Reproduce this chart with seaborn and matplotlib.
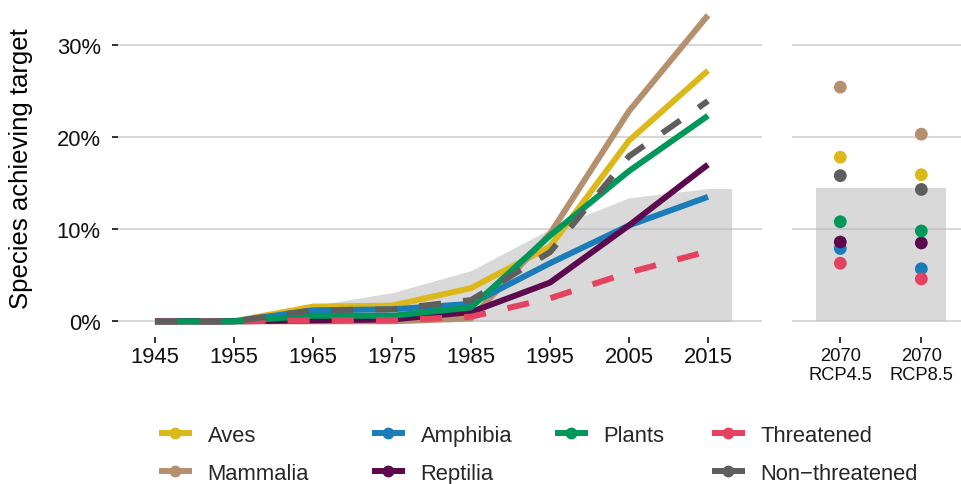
import numpy as np
import pandas as pd
import matplotlib
matplotlib.use("Agg")
import matplotlib.pyplot as plt
import seaborn as sns
from matplotlib.lines import Line2D

# Species groups (legend / drawing order)
groups = ["Aves", "Mammalia", "Amphibia", "Reptilia", "Plants", "Threatened", "Non\u2212threatened"]
colors = ["#DDB81A", "#B5906E", "#1A7DBA", "#5C0A4D", "#00975A", "#E34360", "#5E5E5E"]
dashed = ["Threatened", "Non\u2212threatened"]

# Historical share of species achieving target (%)
years = [1945, 1955, 1965, 1975, 1985, 1995, 2005, 2015]
aves = [0, 0, 1.6, 1.7, 3.6, 8.1, 19.6, 27.2]
mammalia = [0, 0, 0, 0, 0.3, 9.5, 22.8, 33.2]
amphibia = [0, 0, 1.2, 1.3, 1.9, 6.3, 10.4, 13.5]
reptilia = [0, 0, 0.1, 0.2, 1.0, 4.2, 10.4, 17.0]
plants = [0, 0, 0.6, 0.6, 1.5, 9.3, 16.3, 22.3]
threatened = [0, 0, 0.1, 0.1, 0.5, 2.5, 5.3, 7.6]
non_threatened = [0, 0, 1.2, 1.3, 2.3, 7.5, 17.9, 23.9]

# Grey band (target level)
target_years = [1945, 1955, 1965, 1975, 1985, 1995, 2005, 2015, 2018]
target_vals = [0, 0, 1.7, 3.1, 5.5, 10.0, 13.4, 14.4, 14.4]
target_2070 = 14.45

# 2070 projections
scenarios = ["2070\nRCP4.5", "2070\nRCP8.5"]
fut_aves = [17.8, 15.9]
fut_mammalia = [25.4, 20.3]
fut_amphibia = [7.9, 5.7]
fut_reptilia = [8.6, 8.5]
fut_plants = [10.8, 9.8]
fut_threatened = [6.3, 4.6]
fut_non_threatened = [15.8, 14.3]

hist = dict(zip(groups, [aves, mammalia, amphibia, reptilia, plants, threatened, non_threatened]))
fut = dict(zip(groups, [fut_aves, fut_mammalia, fut_amphibia, fut_reptilia, fut_plants,
                        fut_threatened, fut_non_threatened]))

df_hist = pd.DataFrame([(g, y, v) for g in groups for y, v in zip(years, hist[g])],
                       columns=["group", "year", "value"])
df_fut = pd.DataFrame([(g, s, v) for g in groups for s, v in zip(scenarios, fut[g])],
                      columns=["group", "scenario", "value"])

sns.set_theme(style="white")
plt.rcParams["font.family"] = ["Liberation Sans", "DejaVu Sans"]

palette = dict(zip(groups, colors))
dash_map = {g: ((3.7, 3.7) if g in dashed else "") for g in groups}
fill_col = "#b6b6b6"
grid_col = "#d4d4d4"
W, H = 962, 485

fig = plt.figure(figsize=(W / 100, H / 100), dpi=100)
ax1 = fig.add_axes([118 / W, 147 / H, 644 / W, 338 / H])
ax2 = fig.add_axes([792 / W, 147 / H, 170 / W, 338 / H], sharey=ax1)

# left panel
ax1.fill_between(target_years, target_vals, color=fill_col, alpha=0.52, linewidth=0, zorder=1)
sns.lineplot(data=df_hist, x="year", y="value", hue="group", style="group",
             hue_order=groups, style_order=groups, palette=palette, dashes=dash_map,
             linewidth=4.3, errorbar=None, legend=False, ax=ax1, zorder=3,
             solid_capstyle="butt", dash_capstyle="butt")
ax1.set_xlim(1940.32, 2021.84)
ax1.set_ylim(-1.7, 34.96)
ax1.set_xticks(years)
ax1.set_yticks([0, 10, 20, 30])
ax1.set_yticklabels([f"{v}%" for v in [0, 10, 20, 30]])
ax1.set_xlabel("")
ax1.set_ylabel("Species achieving target", fontsize=18.5, color="black")
ax1.yaxis.set_label_coords(-0.132, 0.5)

# right panel
sns.scatterplot(data=df_fut, x="scenario", y="value", hue="group", hue_order=groups,
                palette=palette, s=85, linewidth=0, legend=False, ax=ax2, zorder=3)
ax2.bar(0.5, target_2070, width=1.6, color=fill_col, alpha=0.52, linewidth=0, zorder=1)
ax2.set_xlim(-0.596, 1.502)
ax2.set_xticks([0, 1])
ax2.set_xticklabels(scenarios, fontsize=13.2, linespacing=1.12)
ax2.set_xlabel("")
ax2.set_ylabel("")
ax2.tick_params(axis="y", left=False, labelleft=False)

for ax in (ax1, ax2):
    for sp in ax.spines.values():
        sp.set_visible(False)
    ax.set_axisbelow(True)
    ax.yaxis.grid(True, color=grid_col, linewidth=1.3)
    ax.xaxis.grid(False)
    ax.tick_params(axis="both", which="major", length=4, width=1.4, color="#333333",
                   labelcolor="#111111", bottom=True)
ax1.tick_params(axis="x", labelsize=15.8, pad=2.5)
ax1.tick_params(axis="y", labelsize=15.8, pad=8.5, left=True)
ax2.tick_params(axis="x", pad=3.5)

# legend, one block per column
cols = [["Aves", "Mammalia"], ["Amphibia", "Reptilia"], ["Plants"], ["Threatened", "Non\u2212threatened"]]
col_x = [159, 372, 555, 712]
for labels, x in zip(cols, col_x):
    handles = [Line2D([0], [0], color=palette[g], lw=4.3, marker="o", markersize=7.5,
                      solid_capstyle="butt") for g in labels]
    fig.legend(handles, labels, loc="upper left", bbox_to_anchor=(x / W, 1 - 426 / H),
               frameon=False, fontsize=15.8, handlelength=1.5, handletextpad=0.72,
               labelspacing=0.76, borderpad=0, borderaxespad=0)

fig.savefig("out.png", dpi=100)
